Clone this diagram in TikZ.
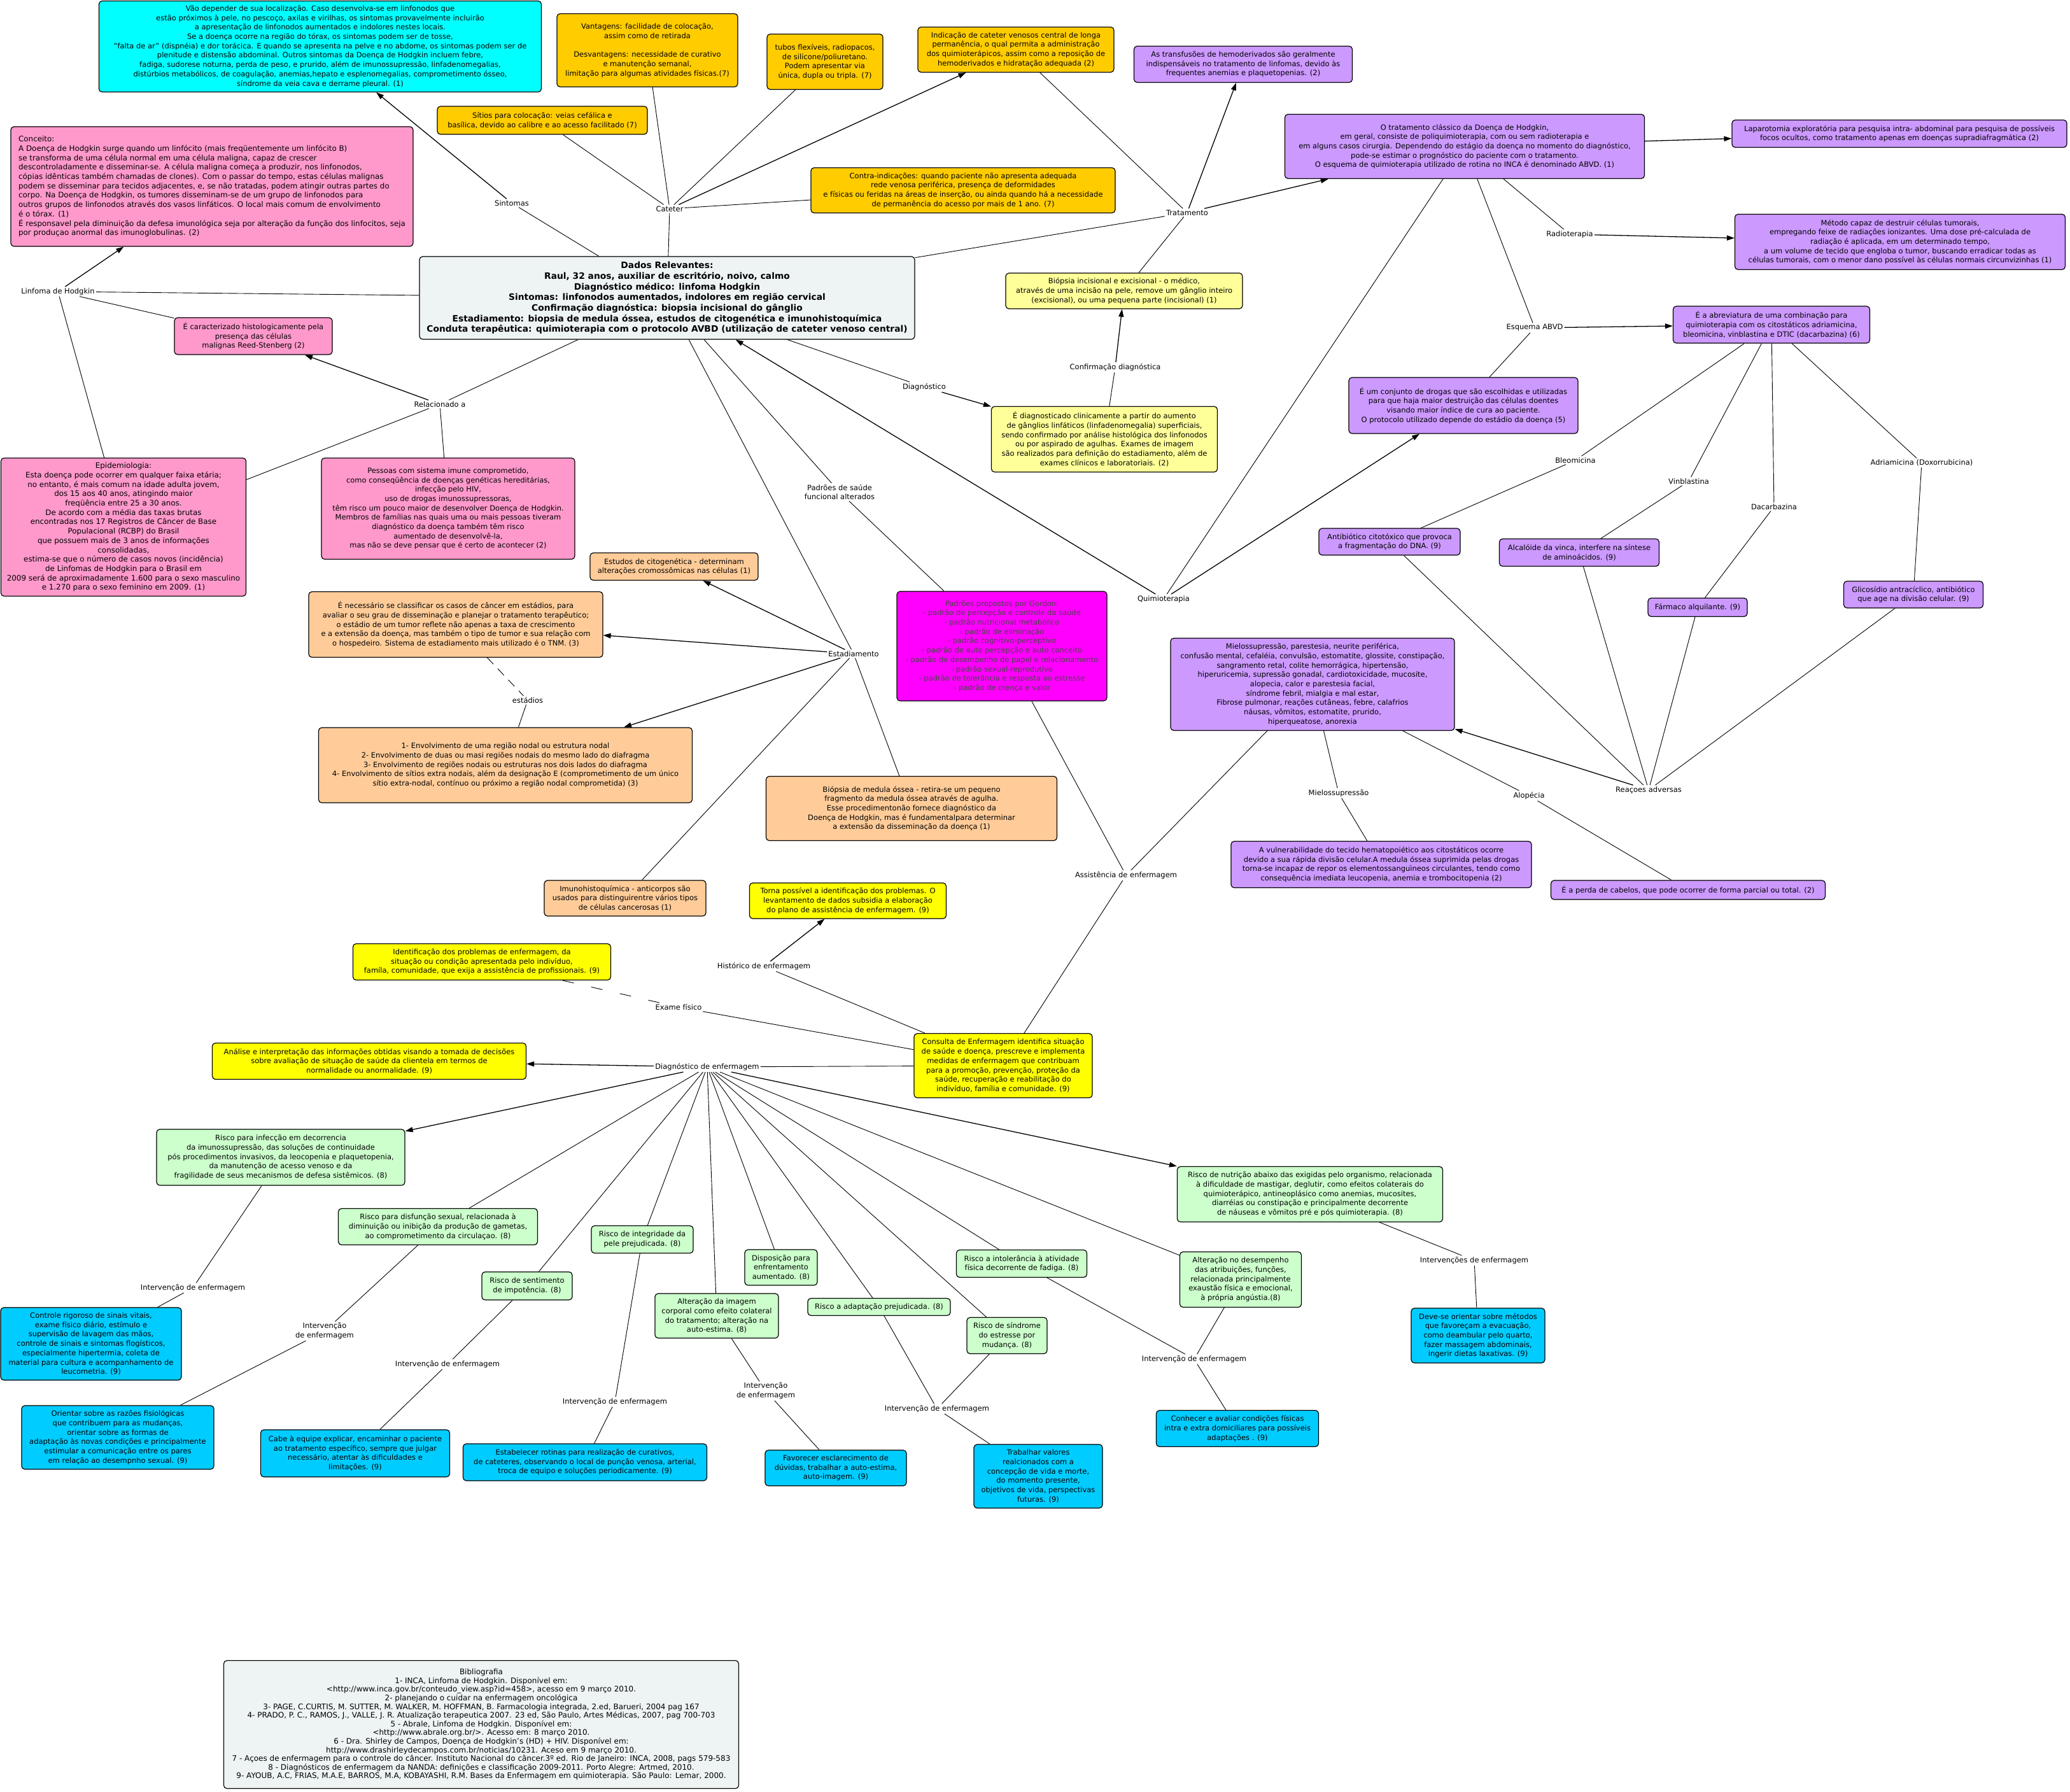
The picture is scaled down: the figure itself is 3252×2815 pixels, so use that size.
\documentclass[tikz,border=0pt]{standalone}
\usepackage{fontspec}
\setmainfont{DejaVu Sans}
\usetikzlibrary{arrows.meta}

\definecolor{cyanbox}{HTML}{00FFFF}
\definecolor{pinkbox}{HTML}{FF99CC}
\definecolor{orangebox}{HTML}{FFCC00}
\definecolor{purplebox}{HTML}{CC99FF}
\definecolor{lightyellow}{HTML}{FFFF99}
\definecolor{centralbox}{HTML}{EEF4F4}
\definecolor{peachbox}{HTML}{FFCC99}
\definecolor{magentabox}{HTML}{FF00FF}
\definecolor{yellowbox}{HTML}{FFFF00}
\definecolor{greenbox}{HTML}{CCFFCC}
\definecolor{bluebox}{HTML}{00CCFF}

\newcommand{\nfont}{\fontsize{11.5pt}{14.7pt}\selectfont}
\newcommand{\pfont}{\fontsize{11.9pt}{14.7pt}\selectfont}
\newcommand{\cfont}{\fontsize{13.8pt}{16.7pt}\selectfont\bfseries}
\newcommand{\rfont}{\fontsize{12pt}{13.6pt}\selectfont}

\begin{document}
\begin{tikzpicture}[
 x=1pt, y=-1pt,
 concept/.style={rectangle, draw=black, line width=1.2pt, rounded corners=5pt, align=center, font=\nfont, inner sep=2pt},
 lbl/.style={rectangle, draw=none, fill=white, font=\nfont, align=center, inner sep=2pt},
 ln/.style={black, line width=0.9pt},
 arr/.style={-{Triangle[length=12pt,width=8pt]}, black, line width=1.3pt},
]
\fill[white] (0,0) rectangle (3252,2815);
\useasboundingbox (0,0) rectangle (3252,2815);

% Central
\node[concept, fill=centralbox, font=\cfont, minimum width=778, minimum height=130] (central) at (1048,468) {Dados Relevantes:\\Raul, 32 anos, auxiliar de escritório, noivo, calmo\\Diagnóstico médico: linfoma Hodgkin\\Sintomas: linfonodos aumentados, indolores em região cervical\\Confirmação diagnóstica: biopsia incisional do gânglio\\Estadiamento: biopsia de medula óssea, estudos de citogenética e imunohistoquímica\\Conduta terapêutica: quimioterapia com o protocolo AVBD (utilização de cateter venoso central)};

% Sintomas e cateter
\node[concept, fill=cyanbox, minimum width=695, minimum height=143] (sint) at (503,73) {Vão depender de sua localização. Caso desenvolva-se em linfonodos que\\estão próximos à pele, no pescoço, axilas e virilhas, os sintomas provavelmente incluirão\\a apresentação de linfonodos aumentados e indolores nestes locais.\\Se a doença ocorre na região do tórax, os sintomas podem ser de tosse,\\"falta de ar" (dispnéia) e dor torácica. E quando se apresenta na pelve e no abdome, os sintomas podem ser de\\plenitude e distensão abdominal. Outros sintomas da Doença de Hodgkin incluem febre,\\fadiga, sudorese noturna, perda de peso, e prurido, além de imunossupressão, linfadenomegalias,\\distúrbios metabólicos, de coagulação, anemias,hepato e esplenomegalias, comprometimento ósseo,\\síndrome da veia cava e derrame pleural. (1)};
\node[concept, fill=orangebox, minimum width=284, minimum height=115] (vant) at (1017,79) {Vantagens: facilidade de colocação,\\assim como de retirada\\\mbox{}\\Desvantagens: necessidade de curativo\\e manutenção semanal,\\limitação para algumas atividades físicas.(7)};
\node[concept, fill=orangebox, minimum width=182, minimum height=87] (tubos) at (1296,97) {tubos flexíveis, radiopacos,\\de silicone/poliuretano.\\Podem apresentar via\\única, dupla ou tripla. (7)};
\node[concept, fill=orangebox, minimum width=308, minimum height=71] (indic) at (1596,78) {Indicação de cateter venosos central de longa\\permanência, o qual permita a administração\\dos quimioterápicos, assim como a reposição de\\hemoderivados e hidratação adequada (2)};
\node[concept, fill=orangebox, minimum width=330, minimum height=44] (sitios) at (852,189) {Sítios para colocação: veias cefálica e\\basílica, devido ao calibre e ao acesso facilitado (7)};
\node[concept, fill=orangebox, minimum width=478, minimum height=71] (contra) at (1513,299) {Contra-indicações: quando paciente não apresenta adequada\\rede venosa periférica, presença de deformidades\\e físicas ou feridas na áreas de inserção, ou ainda quando há a necessidade\\de permanência do acesso por mais de 1 ano. (7)};

% Tratamento
\node[concept, fill=purplebox, minimum width=343, minimum height=57] (transf) at (1953,101) {As transfusões de hemoderivados são geralmente\\indispensáveis no tratamento de linfomas, devido às\\frequentes anemias e plaquetopenias. (2)};
\node[concept, fill=purplebox, minimum width=565, minimum height=101] (tratc) at (2301,230) {O tratamento clássico da Doença de Hodgkin,\\em geral, consiste de poliquimioterapia, com ou sem radioterapia e\\em alguns casos cirurgia. Dependendo do estágio da doença no momento do diagnóstico,\\pode-se estimar o prognóstico do paciente com o tratamento.\\O esquema de quimioterapia utilizado de rotina no INCA é denominado ABVD. (1)};
\node[concept, fill=purplebox, minimum width=526, minimum height=43] (laparo) at (2984,210) {Laparotomia exploratória para pesquisa intra- abdominal para pesquisa de possíveis\\focos ocultos, como tratamento apenas em doenças supradiafragmática (2)};
\node[concept, fill=purplebox, minimum width=519, minimum height=87] (metodo) at (2985,380) {Método capaz de destruir células tumorais,\\empregando feixe de radiações ionizantes. Uma dose pré-calculada de\\radiação é aplicada, em um determinado tempo,\\a um volume de tecido que engloba o tumor, buscando erradicar todas as\\células tumorais, com o menor dano possível às células normais circunvizinhas (1)};
\node[concept, fill=lightyellow, minimum width=372, minimum height=56] (incis) at (1766,457) {Biópsia incisional e excisional - o médico,\\através de uma incisão na pele, remove um gânglio inteiro\\(excisional), ou uma pequena parte (incisional) (1)};
\node[concept, fill=lightyellow, minimum width=355, minimum height=103] (diagn) at (1735,690) {É diagnosticado clinicamente a partir do aumento\\de gânglios linfáticos (linfadenomegalia) superficiais,\\sendo confirmado por análise histológica dos linfonodos\\ou por aspirado de agulhas. Exames de imagem\\são realizados para definição do estadiamento, além de\\exames clínicos e laboratoriais. (2)};

% Linfoma
\node[concept, fill=pinkbox, font=\pfont, align=left, minimum width=632, minimum height=188] (conceito) at (333,293) {Conceito:\\A Doença de Hodgkin surge quando um linfócito (mais freqüentemente um linfócito B)\\se transforma de uma célula normal em uma célula maligna, capaz de crescer\\descontroladamente e disseminar-se. A célula maligna começa a produzir, nos linfonodos,\\cópias idênticas também chamadas de clones). Com o passar do tempo, estas células malignas\\podem se disseminar para tecidos adjacentes, e, se não tratadas, podem atingir outras partes do\\corpo. Na Doença de Hodgkin, os tumores disseminam-se de um grupo de linfonodos para\\outros grupos de linfonodos através dos vasos linfáticos. O local mais comum de envolvimento\\é o tórax. (1)\\É responsavel pela diminuição da defesa imunológica seja por alteração da função dos linfocitos, seja\\por produçao anormal das imunoglobulinas. (2)};
\node[concept, fill=pinkbox, minimum width=248, minimum height=58] (caract) at (398,528) {É caracterizado histologicamente pela\\presença das células\\malignas Reed-Stenberg (2)};
\node[concept, fill=pinkbox, font=\pfont, minimum width=385, minimum height=217] (epidem) at (194,828) {Epidemiologia:\\Esta doença pode ocorrer em qualquer faixa etária;\\no entanto, é mais comum na idade adulta jovem,\\dos 15 aos 40 anos, atingindo maior\\freqüência entre 25 a 30 anos.\\De acordo com a média das taxas brutas\\encontradas nos 17 Registros de Câncer de Base\\Populacional (RCBP) do Brasil\\que possuem mais de 3 anos de informações\\consolidadas,\\estima-se que o número de casos novos (incidência)\\de Linfomas de Hodgkin para o Brasil em\\2009 será de aproximadamente 1.600 para o sexo masculino\\e 1.270 para o sexo feminino em 2009. (1)};
\node[concept, fill=pinkbox, minimum width=398, minimum height=159] (pessoas) at (704,799) {Pessoas com sistema imune comprometido,\\como conseqüência de doenças genéticas hereditárias,\\infecção pelo HIV,\\uso de drogas imunossupressoras,\\têm risco um pouco maior de desenvolver Doença de Hodgkin.\\Membros de famílias nas quais uma ou mais pessoas tiveram\\diagnóstico da doença também têm risco\\aumentado de desenvolvê-la,\\mas não se deve pensar que é certo de acontecer (2)};

% Estadiamento
\node[concept, fill=peachbox, minimum width=264, minimum height=43] (citog) at (1059,890) {Estudos de citogenética - determinam\\alterações cromossômicas nas células (1)};
\node[concept, fill=peachbox, minimum width=462, minimum height=103] (necess) at (716,981) {É necessário se classificar os casos de câncer em estádios, para\\avaliar o seu grau de disseminação e planejar o tratamento terapêutico;\\o estádio de um tumor reflete não apenas a taxa de crescimento\\e a extensão da doença, mas também o tipo de tumor e sua relação com\\o hospedeiro. Sistema de estadiamento mais utilizado é o TNM. (3)};
\node[concept, fill=peachbox, minimum width=587, minimum height=118] (estadios) at (794,1202) {1- Envolvimento de uma região nodal ou estrutura nodal\\2- Envolvimento de duas ou masi regiões nodais do mesmo lado do diafragma\\3- Envolvimento de regiões nodais ou estruturas nos dois lados do diafragma\\4- Envolvimento de sítios extra nodais, além da designação E (comprometimento de um único\\sítio extra-nodal, contínuo ou próximo a região nodal comprometida) (3)};
\node[concept, fill=peachbox, minimum width=457, minimum height=101] (medula) at (1432,1270) {Biópsia de medula óssea - retira-se um pequeno\\fragmento da medula óssea através de agulha.\\Esse procedimentonão fornece diagnóstico da\\Doença de Hodgkin, mas é fundamentalpara determinar\\a extensão da disseminação da doença (1)};
\node[concept, fill=peachbox, minimum width=254, minimum height=56] (imuno) at (982,1411) {Imunohistoquímica - anticorpos são\\usados para distinguirentre vários tipos\\de células cancerosas (1)};
\node[concept, fill=magentabox, text=black!72, minimum width=330, minimum height=172] (gordon) at (1574,1015) {Padrões propostos por Gordon:\\- padrão de percepção e controle da saúde\\- padrão nutricional metabólico\\- padrão de eliminação\\- padrão cognitivo-perceptivo\\- padrão de auto percepção e auto conceito\\- padrão de desempenho de papel e relacionamento\\- padrão sexual-reprodutivo\\- padrão de tolerância e resposta ao estresse\\- padrão de crença e valor};

% Quimioterapia
\node[concept, fill=purplebox, minimum width=309, minimum height=58] (abvd) at (2783,510) {É a abreviatura de uma combinação para\\quimioterapia com os citostáticos adriamicina,\\bleomicina, vinblastina e DTIC (dacarbazina) (6)};
\node[concept, fill=purplebox, minimum width=360, minimum height=88] (conjunto) at (2299,637) {É um conjunto de drogas que são escolhidas e utilizadas\\para que haja maior destruição das células doentes\\visando maior índice de cura ao paciente.\\O protocolo utilizado depende do estádio da doença (5)};
\node[concept, fill=purplebox, minimum width=222, minimum height=42] (antib) at (2183,851) {Antibiótico citotóxico que provoca\\a fragmentação do DNA. (9)};
\node[concept, fill=purplebox, minimum width=251, minimum height=43] (alcal) at (2481,868) {Alcalóide da vinca, interfere na síntese\\de aminoácidos. (9)};
\node[concept, fill=purplebox, minimum width=156, minimum height=29] (farm) at (2667,954) {Fármaco alquilante. (9)};
\node[concept, fill=purplebox, minimum width=219, minimum height=42] (glico) at (3006,934) {Glicosídio antracíclico, antibiótico\\que age na divisão celular. (9)};
\node[concept, fill=purplebox, minimum width=446, minimum height=145] (mielo) at (2062,1075) {Mielossupressão, parestesia, neurite periférica,\\confusão mental, cefaléia, convulsão, estomatite, glossite, constipação,\\sangramento retal, colite hemorrágica, hipertensão,\\hiperuricemia, supressão gonadal, cardiotoxicidade, mucosite,\\alopecia, calor e parestesia facial,\\síndrome febril, mialgia e mal estar,\\Fibrose pulmonar, reações cutâneas, febre, calafrios\\náusas, vômitos, estomatite, prurido,\\hiperqueatose, anorexia};
\node[concept, fill=purplebox, minimum width=472, minimum height=73] (vulner) at (2170,1358) {A vulnerabilidade do tecido hematopoiético aos citostáticos ocorre\\devido a sua rápida divisão celular.A medula óssea suprimida pelas drogas\\torna-se incapaz de repor os elementossanguìneos circulantes, tendo como\\consequência imediata leucopenia, anemia e trombocitopenia (2)};
\node[concept, fill=purplebox, minimum width=431, minimum height=30] (perda) at (2652,1398) {É a perda de cabelos, que pode ocorrer de forma parcial ou total. (2)};

% Assistencia de enfermagem
\node[concept, fill=yellowbox, minimum width=309, minimum height=56] (torna) at (1332,1415) {Torna possível a identificação dos problemas. O\\levantamento de dados subsidia a elaboração\\do plano de assistência de enfermagem. (9)};
\node[concept, fill=yellowbox, minimum width=405, minimum height=57] (identif) at (757,1511) {Identificação dos problemas de enfermagem, da\\situação ou condição apresentada pelo indivíduo,\\famíla, comunidade, que exija a assistência de profissionais. (9)};
\node[concept, fill=yellowbox, minimum width=493, minimum height=57] (analise) at (580,1667) {Análise e interpretação das informações obtidas visando a tomada de decisões\\sobre avaliação de situação de saúde da clientela em termos de\\normalidade ou anormalidade. (9)};
\node[concept, fill=yellowbox, minimum width=280, minimum height=101] (consulta) at (1576,1674) {Consulta de Enfermagem identifica situação\\de saúde e doença, prescreve e implementa\\medidas de enfermagem que contribuam\\para a promoção, prevenção, proteção da\\saúde, recuperação e reabilitação do\\indivíduo, família e comunidade. (9)};

% Diagnosticos e intervencoes
\node[concept, fill=greenbox, minimum width=390, minimum height=88] (infec) at (441,1818) {Risco para infecção em decorrencia\\da imunossupressão, das soluções de continuidade\\pós procedimentos invasivos, da leocopenia e plaquetopenia,\\da manutenção de acesso venoso e da\\fragilidade de seus mecanismos de defesa sistêmicos. (8)};
\node[concept, fill=bluebox, minimum width=284, minimum height=114] (controle) at (143,2111) {Controle rigoroso de sinais vitais,\\exame físico diário, estímulo e\\supervisão de lavagem das mãos,\\controle de sinais e sintomas flogísticos,\\especialmente hipertermia, coleta de\\material para cultura e acompanhamento de\\leucometria. (9)};
\node[concept, fill=greenbox, minimum width=313, minimum height=57] (disfun) at (688,1927) {Risco para disfunção sexual, relacionada à\\diminuição ou inibição da produção de gametas,\\ao comprometimento da circulaçao. (8)};
\node[concept, fill=bluebox, minimum width=302, minimum height=100] (orientar) at (185,2258) {Orientar sobre as razões fisiológicas\\que contribuem para as mudanças,\\orientar sobre as formas de\\adaptação às novas condições e principalmente\\estimular a comunicação entre os pares\\em relação ao desempnho sexual. (9)};
\node[concept, fill=greenbox, minimum width=142, minimum height=44] (impot) at (828,2020) {Risco de sentimento\\de impotência. (8)};
\node[concept, fill=bluebox, minimum width=297, minimum height=74] (cabe) at (558,2283) {Cabe à equipe explicar, encaminhar o paciente\\ao tratamento específico, sempre que julgar\\necessário, atentar às dificuldades e\\limitações. (9)};
\node[concept, fill=greenbox, minimum width=160, minimum height=43] (integ) at (1009,1947) {Risco de integridade da\\pele prejudicada. (8)};
\node[concept, fill=bluebox, minimum width=383, minimum height=58] (estab) at (919,2297) {Estabelecer rotinas para realização de curativos,\\de cateteres, observando o local de punção venosa, arterial,\\troca de equipo e soluções periodicamente. (9)};
\node[concept, fill=greenbox, minimum width=114, minimum height=56] (dispos) at (1227,1991) {Disposição para\\enfrentamento\\aumentado. (8)};
\node[concept, fill=greenbox, minimum width=194, minimum height=70] (imagem) at (1126,2067) {Alteração da imagem\\corporal como efeito colateral\\do tratamento; alteração na\\auto-estima. (8)};
\node[concept, fill=bluebox, minimum width=222, minimum height=56] (favor) at (1313,2306) {Favorecer esclarecimento de\\dúvidas, trabalhar a auto-estima,\\auto-imagem. (9)};
\node[concept, fill=greenbox, minimum width=224, minimum height=27] (adapt) at (1381,2053) {Risco a adaptação prejudicada. (8)};
\node[concept, fill=greenbox, minimum width=205, minimum height=43] (intol) at (1605,1985) {Risco a intolerância à atividade\\física decorrente de fadiga. (8)};
\node[concept, fill=greenbox, minimum width=126, minimum height=57] (sindr) at (1582,2098) {Risco de síndrome\\do estresse por\\mudança. (8)};
\node[concept, fill=bluebox, minimum width=202, minimum height=100] (trab) at (1631,2319) {Trabalhar valores\\realcionados com a\\concepção de vida e morte,\\do momento presente,\\objetivos de vida, perspectivas\\futuras. (9)};
\node[concept, fill=greenbox, minimum width=191, minimum height=87] (desemp) at (1949,2010) {Alteração no desempenho\\das atribuições, funções,\\relacionada principalmente\\exaustão física e emocional,\\à própria angústia.(8)};
\node[concept, fill=bluebox, minimum width=255, minimum height=57] (conhecer) at (1944,2244) {Conhecer e avaliar condições físicas\\intra e extra domiciliares para possíveis\\adaptações . (9)};
\node[concept, fill=greenbox, minimum width=417, minimum height=87] (nutri) at (2058,1876) {Risco de nutrição abaixo das exigidas pelo organismo, relacionada\\à dificuldade de mastigar, deglutir, como efeitos colaterais do\\quimioterápico, antineoplásico como anemias, mucosites,\\diarréias ou constipação e principalmente decorrente\\de náuseas e vômitos pré e pós quimioterapia. (8)};
\node[concept, fill=bluebox, minimum width=210, minimum height=86] (deve) at (2322,2098) {Deve-se orientar sobre métodos\\que favoreçam a evacuação,\\como deambular pelo quarto,\\fazer massagem abdominais,\\ingerir dietas laxativas. (9)};

% Bibliografia
\node[concept, fill=centralbox, font=\rfont, minimum width=809, minimum height=201] (biblio) at (756,2709) {Bibliografia\\1- INCA, Linfoma de Hodgkin. Disponível em:\\<http://www.inca.gov.br/conteudo\_view.asp?id=458>, acesso em 9 março 2010.\\2- planejando o cuidar na enfermagem oncológica\\3- PAGE, C.CURTIS, M. SUTTER, M. WALKER, M. HOFFMAN, B. Farmacologia integrada, 2.ed, Barueri, 2004 pag 167\\4- PRADO, P. C., RAMOS, J., VALLE, J. R. Atualização terapeutica 2007. 23 ed, São Paulo, Artes Médicas, 2007, pag 700-703\\5 - Abrale, Linfoma de Hodgkin. Disponível em:\\<http://www.abrale.org.br/>. Acesso em: 8 março 2010.\\6 -  Dra. Shirley de Campos, Doença de Hodgkin's (HD) + HIV. Disponível em:\\http://www.drashirleydecampos.com.br/noticias/10231. Aceso em 9 março 2010.\\7 - Açoes de enfermagem para o controle do câncer. Instituto Nacional do câncer.3º ed. Rio de Janeiro: INCA, 2008, pags 579-583\\8 - Diagnósticos de enfermagem da NANDA: definições e classificação 2009-2011. Porto Alegre: Artmed, 2010.\\9- AYOUB, A.C, FRIAS, M.A.E, BARROS, M.A, KOBAYASHI, R.M. Bases da Enfermagem em quimioterapia. São Paulo: Lemar, 2000.};

% Linking phrases
\node[lbl] (sintL) at (804,319) {Sintomas};
\node[lbl] (catL) at (1052,328) {Cateter};
\node[lbl] (linfL) at (91,458) {Linfoma de Hodgkin};
\node[lbl] (relL) at (691,635) {Relacionado a};
\node[lbl] (tratL) at (1865,334) {Tratamento};
\node[lbl] (radL) at (2466,368) {Radioterapia};
\node[lbl] (esqL) at (2411,515) {Esquema ABVD};
\node[lbl] (diagL) at (1452,608) {Diagnóstico};
\node[lbl] (confL) at (1752,577) {Confirmação diagnóstica};
\node[lbl] (padL) at (1319,773) {Padrões de saúde\\funcional alterados};
\node[lbl] (estL) at (1341,1027) {Estadiamento};
\node[lbl] (estadL) at (829,1100) {estádios};
\node[lbl] (quimL) at (1828,941) {Quimioterapia};
\node[lbl] (bleoL) at (2475,723) {Bleomicina};
\node[lbl] (vinbL) at (2653,756) {Vinblastina};
\node[lbl] (dacaL) at (2787,796) {Dacarbazina};
\node[lbl] (adriL) at (3019,727) {Adriamicina (Doxorrubicina)};
\node[lbl] (reacL) at (2590,1241) {Reaçoes adversas};
\node[lbl] (mieloL) at (2103,1246) {Mielossupressão};
\node[lbl] (alopL) at (2402,1250) {Alopécia};
\node[lbl] (assistL) at (1769,1375) {Assistência de enfermagem};
\node[lbl] (histL) at (1200,1518) {Histórico de enfermagem};
\node[lbl] (exameL) at (1066,1582) {Exame físico};
\node[lbl] (diagenfL) at (1111,1676) {Diagnóstico de enfermagem};
\node[lbl] (int1) at (303,2023) {Intervenção de enfermagem};
\node[lbl] (int2) at (510,2091) {Intervenção\\de enfermagem};
\node[lbl] (int3) at (703,2143) {Intervenção de enfermagem};
\node[lbl] (int4) at (966,2202) {Intervenção de enfermagem};
\node[lbl] (int5) at (1203,2185) {Intervenção\\de enfermagem};
\node[lbl] (int6) at (1472,2213) {Intervenção de enfermagem};
\node[lbl] (int7) at (1876,2135) {Intervenção de enfermagem};
\node[lbl] (int8) at (2316,1980) {Intervenções de enfermagem};

% From the central node
\draw[ln] (central) -- (sintL);
\draw[arr] (sintL) -- (sint);
\draw[ln] (central) -- (catL);
\draw[ln] (catL) -- (vant);
\draw[ln] (catL) -- (sitios);
\draw[ln] (catL) -- (tubos);
\draw[arr] (catL) -- (indic);
\draw[ln] (catL) -- (contra);
\draw[ln] (central) -- (linfL);
\draw[arr] (linfL) -- (conceito);
\draw[ln] (linfL) -- (caract);
\draw[ln] (linfL) -- (epidem);
\draw[ln] (central) -- (relL);
\draw[arr] (relL) -- (caract);
\draw[ln] (relL) -- (epidem);
\draw[ln] (relL) -- (pessoas);
\draw[ln] (central) -- (estL);
\draw[arr] (estL) -- (citog);
\draw[arr] (estL) -- (necess);
\draw[arr] (estL) -- (estadios);
\draw[ln] (estL) -- (medula);
\draw[ln] (estL) -- (imuno);
\draw[ln, dash pattern=on 14pt off 10pt] (necess) -- (estadL);
\draw[ln] (estadL) -- (estadios);
\draw[ln] (central) -- (padL);
\draw[ln] (padL) -- (gordon);
\draw[ln] (central) -- (diagL);
\draw[arr] (diagL) -- (diagn);
\draw[ln] (diagn) -- (confL);
\draw[arr] (confL) -- (incis);

% Tratamento
\draw[ln] (central) -- (tratL);
\draw[arr] (tratL) -- (transf);
\draw[arr] (tratL) -- (tratc);
\draw[ln] (indic) -- (tratL);
\draw[ln] (incis) -- (tratL);
\draw[arr] (tratc) -- (laparo);
\draw[ln] (tratc) -- (radL);
\draw[arr] (radL) -- (metodo);
\draw[ln] (tratc) -- (esqL);
\draw[arr] (esqL) -- (abvd);
\draw[ln] (esqL) -- (conjunto);
\draw[ln] (tratc) -- (quimL);
\draw[arr] (quimL) -- (conjunto);
\draw[arr] (quimL) -- (central);

% Drogas e reacoes
\draw[ln] (abvd) -- (bleoL);
\draw[ln] (bleoL) -- (antib);
\draw[ln] (abvd) -- (vinbL);
\draw[ln] (vinbL) -- (alcal);
\draw[ln] (abvd) -- (dacaL);
\draw[ln] (dacaL) -- (farm);
\draw[ln] (abvd) -- (adriL);
\draw[ln] (adriL) -- (glico);
\draw[ln] (antib) -- (reacL);
\draw[ln] (alcal) -- (reacL);
\draw[ln] (farm) -- (reacL);
\draw[ln] (glico) -- (reacL);
\draw[arr] (reacL) -- (mielo);
\draw[ln] (mielo) -- (mieloL);
\draw[ln] (mieloL) -- (vulner);
\draw[ln] (mielo) -- (alopL);
\draw[ln] (alopL) -- (perda);

% Assistencia
\draw[ln] (mielo) -- (assistL);
\draw[ln] (gordon) -- (assistL);
\draw[ln] (assistL) -- (consulta);
\draw[ln] (consulta) -- (histL);
\draw[arr] (histL) -- (torna);
\draw[ln] (consulta) -- (exameL);
\draw[ln, dash pattern=on 18pt off 28pt] (exameL) -- (identif);
\draw[ln] (consulta) -- (diagenfL);
\draw[arr] (diagenfL) -- (analise);
\draw[arr] (diagenfL) -- (infec);
\foreach \n in {disfun, impot, integ, imagem, dispos, adapt, sindr, intol, desemp}
  \draw[ln] (diagenfL) -- (\n);
\draw[arr] (diagenfL) -- (nutri);

% Intervencoes
\draw[ln] (infec) -- (int1) -- (controle);
\draw[ln] (disfun) -- (int2) -- (orientar);
\draw[ln] (impot) -- (int3) -- (cabe);
\draw[ln] (integ) -- (int4) -- (estab);
\draw[ln] (imagem) -- (int5) -- (favor);
\draw[ln] (adapt) -- (int6);
\draw[ln] (sindr) -- (int6) -- (trab);
\draw[ln] (intol) -- (int7);
\draw[ln] (desemp) -- (int7) -- (conhecer);
\draw[ln] (nutri) -- (int8) -- (deve);

\end{tikzpicture}
\end{document}
